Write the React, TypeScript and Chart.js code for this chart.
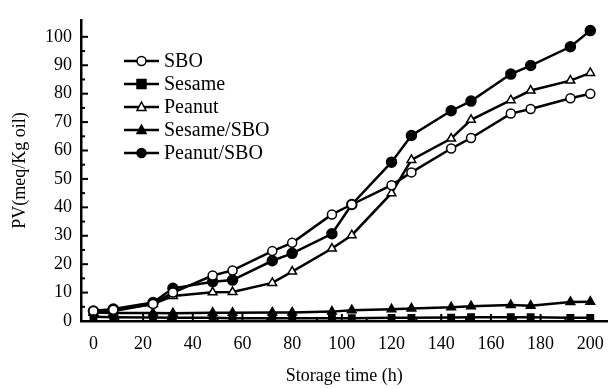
import React, { useEffect, useRef } from "react";
import { Chart, registerables } from "chart.js";

Chart.register(...registerables);

const times = [0, 8, 24, 32, 48, 56, 72, 80, 96, 104, 120, 128, 144, 152, 168, 176, 192, 200];
const sbo = [3.5, 4, 6, 10, 16, 17.8, 24.6, 27.5, 37.5, 41, 47.8, 52.3, 60.7, 64.4, 73, 74.6, 78.4, 80];
const sesame = [1.5, 1.3, 1.2, 1.1, 1.1, 1, 1, 1, 1, 1, 1.1, 1.1, 1.2, 1.3, 1.3, 1.3, 1.1, 1.1];
const peanut = [3, 3.5, 6, 8.8, 10.1, 10.2, 13.4, 17.4, 25.5, 30.2, 45, 56.7, 64.2, 70.8, 77.7, 81.1, 84.6, 87.3];
const sesameSbo = [3, 2.8, 2.8, 2.7, 2.9, 2.9, 3, 3, 3.3, 3.8, 4.1, 4.4, 4.8, 5.2, 5.6, 5.4, 6.7, 6.8];
const peanutSbo = [3.5, 4.2, 6.5, 11.5, 13.8, 14.4, 21.2, 23.8, 30.7, 41, 55.9, 65.3, 74, 77.4, 86.9, 89.9, 96.5, 102.2];
const seriesNames = ["SBO", "Sesame", "Peanut", "Sesame/SBO", "Peanut/SBO"];
const xTickLabels = [0, 20, 40, 60, 80, 100, 120, 140, 160, 180, 200];
const yTickLabels = [0, 10, 20, 30, 40, 50, 60, 70, 80, 90, 100];

const FONT = "'Liberation Serif', 'DejaVu Serif', serif";

const inwardTicks = {
  id: "inwardTicks",
  afterDatasetsDraw(chart: any) {
    const { ctx, chartArea, scales } = chart;
    const x = scales.x;
    const y = scales.y;
    ctx.save();
    ctx.strokeStyle = "#000";
    ctx.lineWidth = 2;
    for (let v = 0; v <= 100; v += 5) {
      const py = y.getPixelForValue(v);
      const len = v % 10 === 0 ? 7 : 4;
      ctx.beginPath();
      ctx.moveTo(chartArea.left, py);
      ctx.lineTo(chartArea.left + len, py);
      ctx.stroke();
    }
    for (let v = 0; v <= 200; v += 10) {
      const px = x.getPixelForValue(v);
      const len = v % 20 === 0 ? 7 : 4;
      ctx.beginPath();
      ctx.moveTo(px, chartArea.bottom);
      ctx.lineTo(px, chartArea.bottom - len);
      ctx.stroke();
    }
    ctx.restore();
  },
};

const innerLegend = {
  id: "innerLegend",
  afterDraw(chart: any) {
    const { ctx } = chart;
    const x0 = 124;
    const x1 = 159;
    const startY = 61;
    const gap = 23;
    ctx.save();
    chart.data.datasets.forEach((ds: any, i: number) => {
      const yy = startY + i * gap;
      ctx.strokeStyle = "#000";
      ctx.lineWidth = 2.5;
      ctx.beginPath();
      ctx.moveTo(x0, yy);
      ctx.lineTo(x1, yy);
      ctx.stroke();
      ctx.lineWidth = 1.5;
      ctx.fillStyle = ds.pointBackgroundColor;
      ctx.strokeStyle = "#000";
      const cx = (x0 + x1) / 2;
      const r = 4.5;
      ctx.beginPath();
      if (ds.pointStyle === "circle") {
        ctx.arc(cx, yy, r, 0, Math.PI * 2);
      } else if (ds.pointStyle === "rect") {
        ctx.rect(cx - r, yy - r, 2 * r, 2 * r);
      } else {
        ctx.moveTo(cx, yy - r - 0.5);
        ctx.lineTo(cx + r, yy + r - 1);
        ctx.lineTo(cx - r, yy + r - 1);
        ctx.closePath();
      }
      ctx.fill();
      ctx.stroke();
      ctx.fillStyle = "#000";
      ctx.font = `20px ${FONT}`;
      ctx.textBaseline = "middle";
      ctx.textAlign = "left";
      ctx.fillText(seriesNames[i], 164, yy + 1);
    });
    ctx.restore();
  },
};

export default function App() {
  const ref = useRef<HTMLCanvasElement | null>(null);
  useEffect(() => {
    if (!ref.current) return;
    const mk = (arr: number[]) => times.map((t, i) => ({ x: t, y: arr[i] }));
    const base = {
      borderColor: "#000",
      borderWidth: 2.5,
      pointBorderColor: "#000",
      pointBorderWidth: 1.5,
      tension: 0,
      fill: false,
    };
    const chart = new Chart(ref.current, {
      type: "line",
      data: {
        datasets: [
          { ...base, label: seriesNames[0], data: mk(sbo), pointStyle: "circle", pointRadius: 4.5, pointBackgroundColor: "#fff" },
          { ...base, label: seriesNames[1], data: mk(sesame), pointStyle: "rect", pointRadius: 4.5, pointBackgroundColor: "#000" },
          { ...base, label: seriesNames[2], data: mk(peanut), pointStyle: "triangle", pointRadius: 5, pointBackgroundColor: "#fff" },
          { ...base, label: seriesNames[3], data: mk(sesameSbo), pointStyle: "triangle", pointRadius: 5, pointBackgroundColor: "#000" },
          { ...base, label: seriesNames[4], data: mk(peanutSbo), pointStyle: "circle", pointRadius: 5, pointBackgroundColor: "#000" },
        ] as any,
      },
      options: {
        responsive: false,
        animation: false,
        layout: { padding: { top: 13, right: 4, left: 0, bottom: 0 } },
        plugins: { legend: { display: false }, tooltip: { enabled: false } },
        scales: {
          x: {
            type: "linear",
            min: -5,
            max: 207,
            grid: { display: false, drawTicks: false },
            border: { display: true, color: "#000", width: 2.5 },
            afterBuildTicks: (s: any) => {
              s.ticks = xTickLabels.map((v) => ({ value: v }));
            },
            afterFit: (s: any) => {
              s.height = 68;
            },
            ticks: {
              color: "#000",
              padding: 12,
              maxRotation: 0,
              autoSkip: false,
              font: { family: FONT, size: 18 },
            },
            title: {
              display: true,
              text: "Storage time (h)",
              color: "#000",
              font: { family: FONT, size: 18 },
              padding: { top: 0, bottom: 2 },
            },
          },
          y: {
            type: "linear",
            min: 0,
            max: 106,
            grid: { display: false, drawTicks: false },
            border: { display: true, color: "#000", width: 2.5 },
            afterBuildTicks: (s: any) => {
              s.ticks = yTickLabels.map((v) => ({ value: v }));
            },
            afterFit: (s: any) => {
              s.width = 81;
            },
            ticks: {
              color: "#000",
              padding: 9,
              autoSkip: false,
              font: { family: FONT, size: 18 },
            },
            title: {
              display: true,
              text: "PV(meq/Kg oil)",
              color: "#000",
              font: { family: FONT, size: 18 },
              padding: { top: 9, bottom: 0 },
            },
          },
        },
      },
      plugins: [inwardTicks, innerLegend],
    });
    return () => chart.destroy();
  }, []);
  return (
    <div style={{ position: "fixed", left: 0, top: 0, width: 616, height: 389, background: "#fff" }}>
      <canvas ref={ref} width={616} height={389} style={{ display: "block" }} />
    </div>
  );
}
